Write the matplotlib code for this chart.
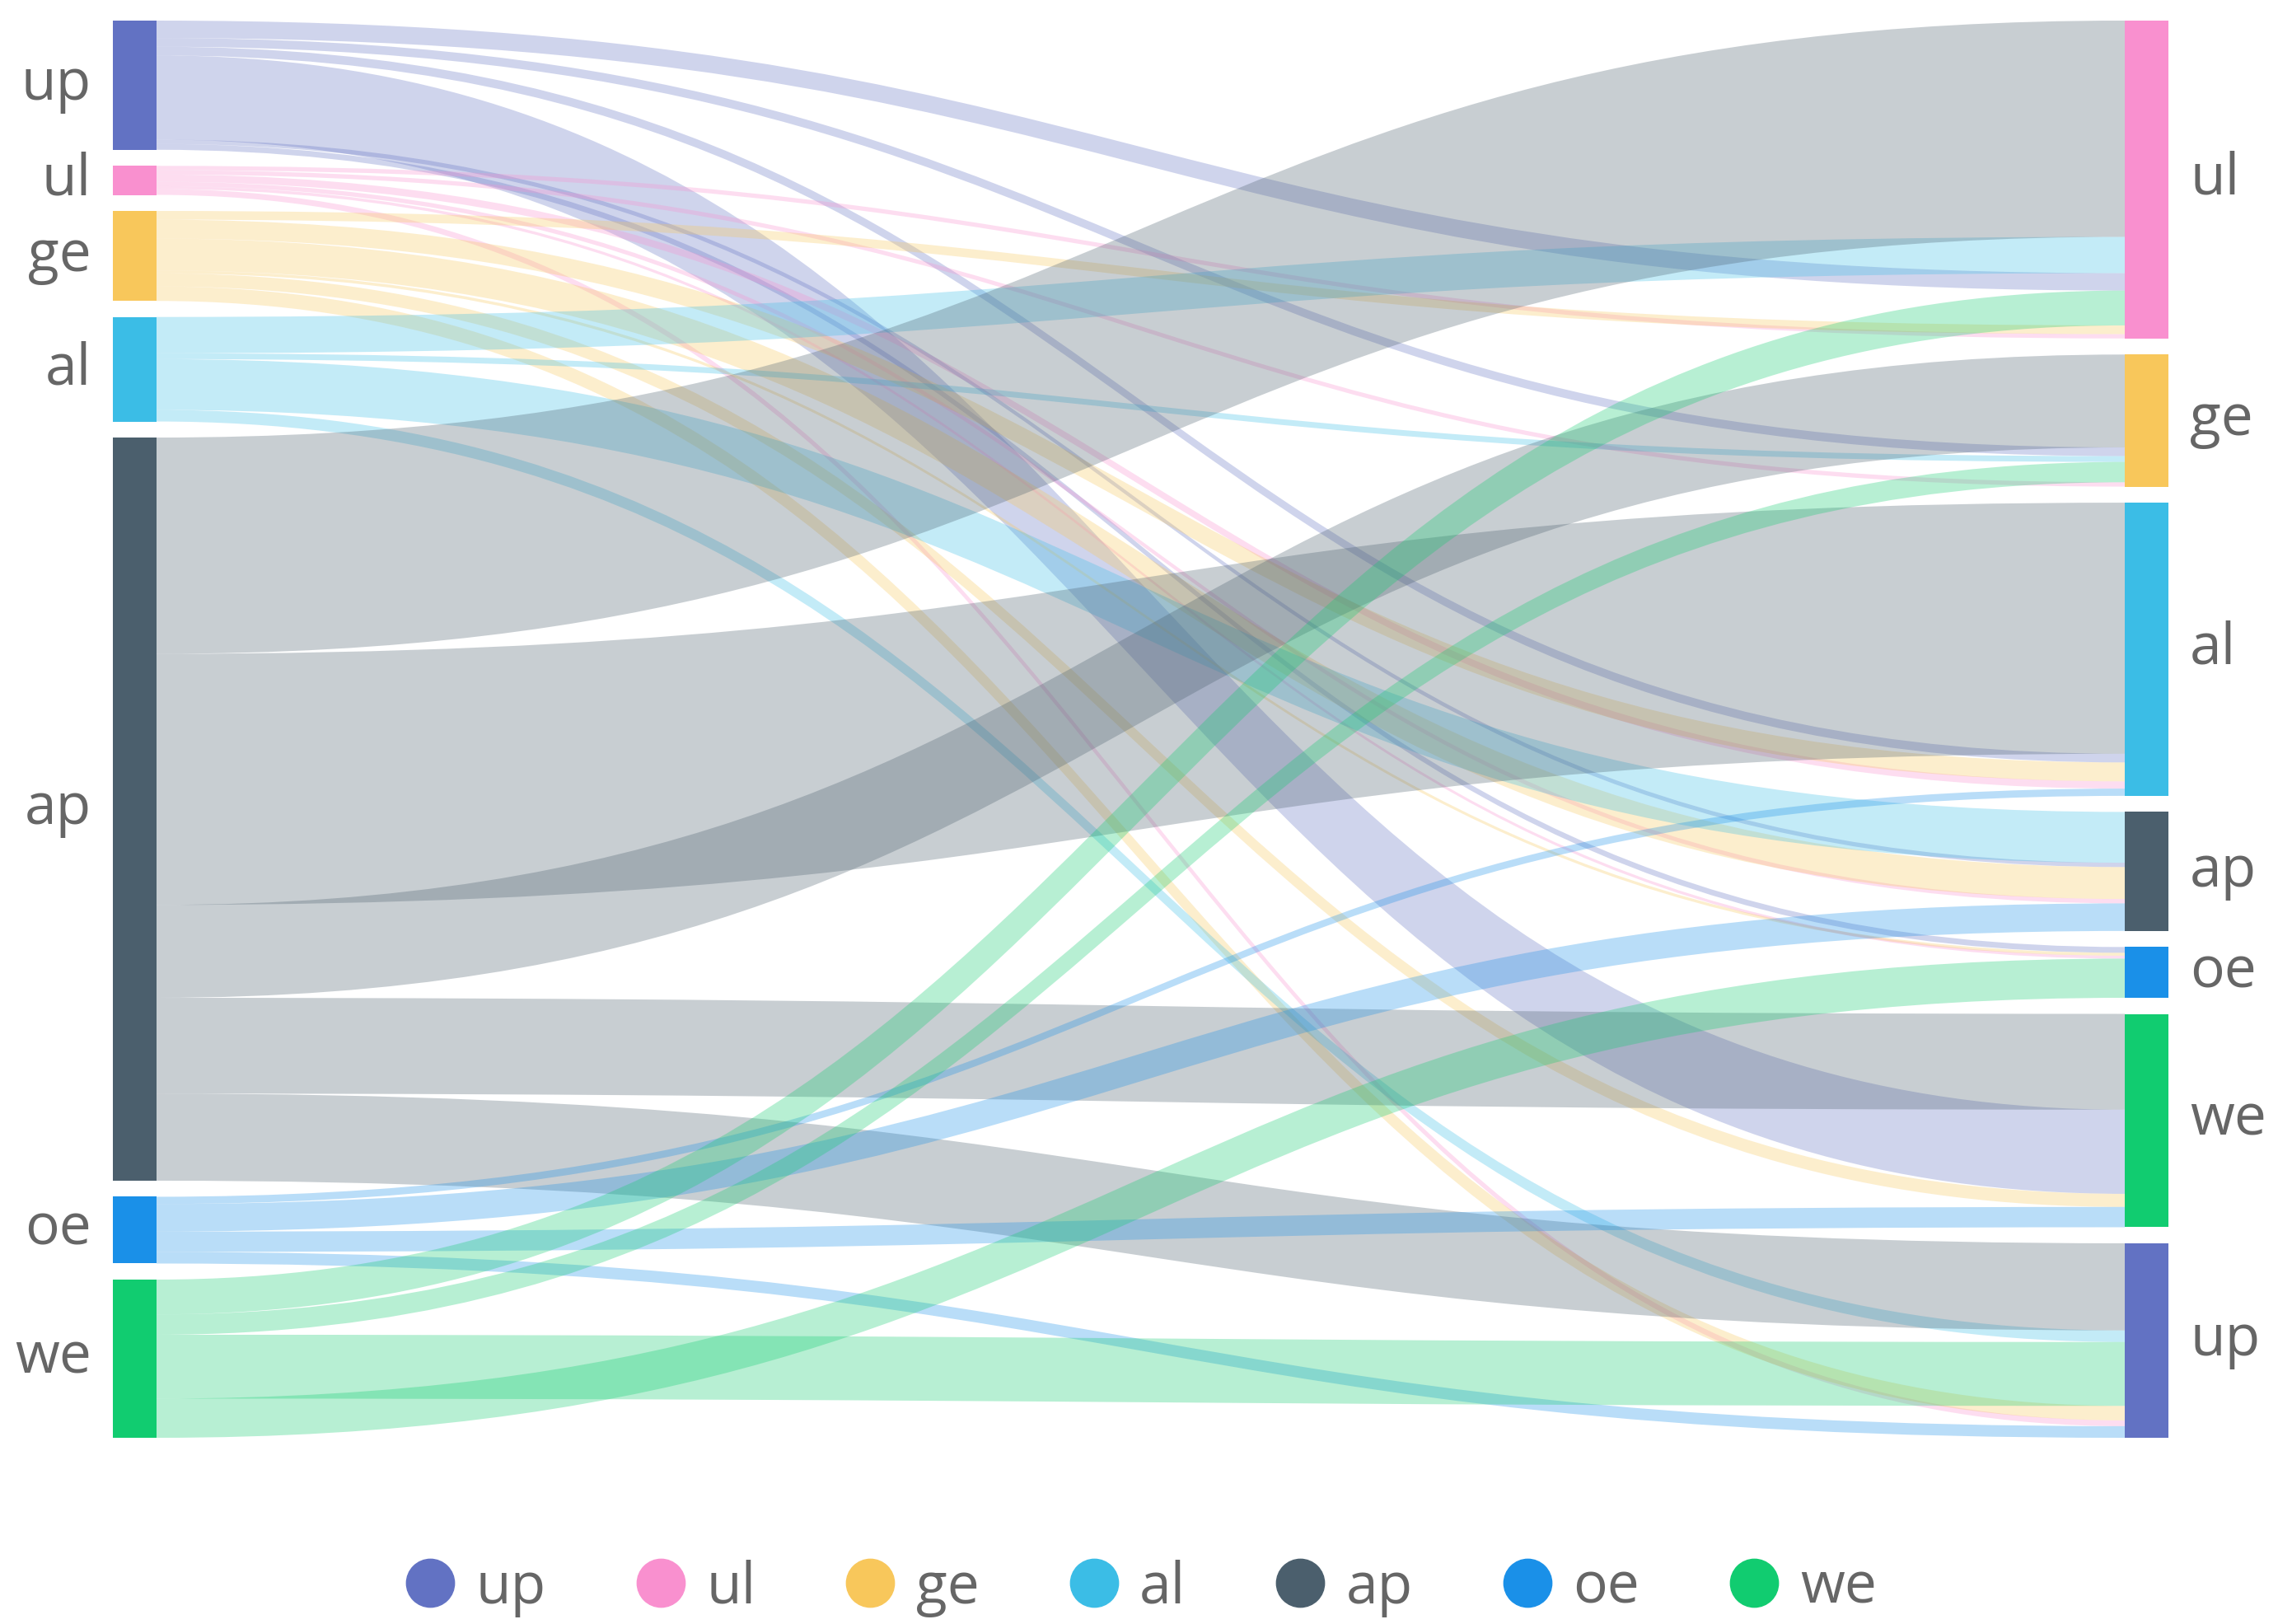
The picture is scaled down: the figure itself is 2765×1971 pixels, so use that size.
import matplotlib.pyplot as plt
from matplotlib.path import Path
from matplotlib.patches import PathPatch, Rectangle
from matplotlib.lines import Line2D

plt.rcParams['font.family'] = ['Open Sans', 'DejaVu Sans']

# ====================== data ======================
left_nodes = ['up', 'ul', 'ge', 'al', 'ap', 'oe', 'we']
right_nodes = ['ul', 'ge', 'al', 'ap', 'oe', 'we', 'up']
legend_names = ['up', 'ul', 'ge', 'al', 'ap', 'oe', 'we']
node_colors = {
    'up': '#6272C3', 'ul': '#F990CF', 'ge': '#F8C75B', 'al': '#3BBDE6',
    'ap': '#4B5F6D', 'oe': '#1A90E8', 'we': '#11CC70',
}

# flows, listed in the order they leave each left node (top to bottom)
flow_src = ['up', 'up', 'up', 'up', 'up', 'up',
            'ul', 'ul', 'ul', 'ul', 'ul', 'ul',
            'ge', 'ge', 'ge', 'ge', 'ge', 'ge',
            'al', 'al', 'al', 'al',
            'ap', 'ap', 'ap', 'ap', 'ap',
            'oe', 'oe', 'oe', 'oe',
            'we', 'we', 'we', 'we']
flow_tgt = ['ul', 'ge', 'al', 'we', 'ap', 'oe',
            'ul', 'ge', 'al', 'ap', 'oe', 'up',
            'ul', 'al', 'ap', 'oe', 'we', 'up',
            'ul', 'ge', 'ap', 'up',
            'ul', 'al', 'ge', 'we', 'up',
            'al', 'ap', 'we', 'up',
            'ul', 'ge', 'up', 'oe']
flow_val = [12, 6, 6, 58, 3, 4,
            3, 3, 5, 3, 2, 4,
            6, 13, 22, 2, 9, 10,
            25, 4, 35, 8,
            149, 173, 64, 66, 60,
            5, 19, 14, 8,
            24, 14, 44, 27]

# order in which flows arrive at each right node (by source, top to bottom)
arrive_order = {
    'ul': ['ap', 'al', 'up', 'we', 'ge', 'ul'],
    'ge': ['ap', 'up', 'al', 'we', 'ul'],
    'al': ['ap', 'up', 'ge', 'ul', 'oe'],
    'ap': ['al', 'up', 'ge', 'ul', 'oe'],
    'oe': ['up', 'ge', 'ul', 'we'],
    'we': ['ap', 'up', 'ge', 'oe'],
    'up': ['ap', 'al', 'we', 'ge', 'ul', 'oe'],
}

# ====================== layout ======================
W, H = 2765, 1971
fig = plt.figure(figsize=(W / 100, H / 100), dpi=100)
ax = fig.add_axes([0, 0, 1, 1])
ax.set_xlim(0, W)
ax.set_ylim(H, 0)
ax.axis('off')

top, bottom, gap = 25, 1745, 19.5
lx0, lx1 = 137, 190
rx0, rx1 = 2579, 2632

left_tot = {n: sum(v for s, v in zip(flow_src, flow_val) if s == n) for n in left_nodes}
right_tot = {n: sum(v for t, v in zip(flow_tgt, flow_val) if t == n) for n in right_nodes}
scale = (bottom - top - gap * (len(left_nodes) - 1)) / max(sum(left_tot.values()), sum(right_tot.values()))


def stack(nodes, totals):
    pos, y = {}, top
    for n in nodes:
        pos[n] = y
        y += totals[n] * scale + gap
    return pos


left_y = stack(left_nodes, left_tot)
right_y = stack(right_nodes, right_tot)

# source offsets
src_off = dict(left_y)
link_sy = []
for s, v in zip(flow_src, flow_val):
    link_sy.append(src_off[s])
    src_off[s] += v * scale

# target offsets
link_ty = [None] * len(flow_val)
for tgt in right_nodes:
    y = right_y[tgt]
    for s in arrive_order[tgt]:
        for i, (fs, ft) in enumerate(zip(flow_src, flow_tgt)):
            if fs == s and ft == tgt:
                link_ty[i] = y
                y += flow_val[i] * scale

# ====================== links ======================
xm = (lx1 + rx0) / 2
for s, v, sy, ty in zip(flow_src, flow_val, link_sy, link_ty):
    w = v * scale
    verts = [(lx1, sy), (xm, sy), (xm, ty), (rx0, ty),
             (rx0, ty + w), (xm, ty + w), (xm, sy + w), (lx1, sy + w), (lx1, sy)]
    codes = [Path.MOVETO, Path.CURVE4, Path.CURVE4, Path.CURVE4,
             Path.LINETO, Path.CURVE4, Path.CURVE4, Path.CURVE4, Path.CLOSEPOLY]
    ax.add_patch(PathPatch(Path(verts, codes), facecolor=node_colors[s], edgecolor='none', alpha=0.3))

# ====================== nodes + labels ======================
for n in left_nodes:
    h = left_tot[n] * scale
    ax.add_patch(Rectangle((lx0, left_y[n]), lx1 - lx0, h, color=node_colors[n], lw=0))
    ax.text(lx0 - 26, left_y[n] + h / 2, n, ha='right', va='center', fontsize=50, color='#666666')
for n in right_nodes:
    h = right_tot[n] * scale
    ax.add_patch(Rectangle((rx0, right_y[n]), rx1 - rx0, h, color=node_colors[n], lw=0))
    ax.text(rx1 + 26, right_y[n] + h / 2, n, ha='left', va='center', fontsize=50, color='#666666')

# ====================== legend ======================
handles = [Line2D([], [], ls='', marker='o', markersize=42,
                  markerfacecolor=node_colors[n], markeredgecolor=node_colors[n]) for n in legend_names]
fig.legend(handles, legend_names, loc='center', bbox_to_anchor=(0.5, 0.022), ncol=7, frameon=False,
           fontsize=50, labelcolor='#666666', handlelength=1.0, handletextpad=0.3, columnspacing=1.5)

fig.savefig('out.png', dpi=100)
